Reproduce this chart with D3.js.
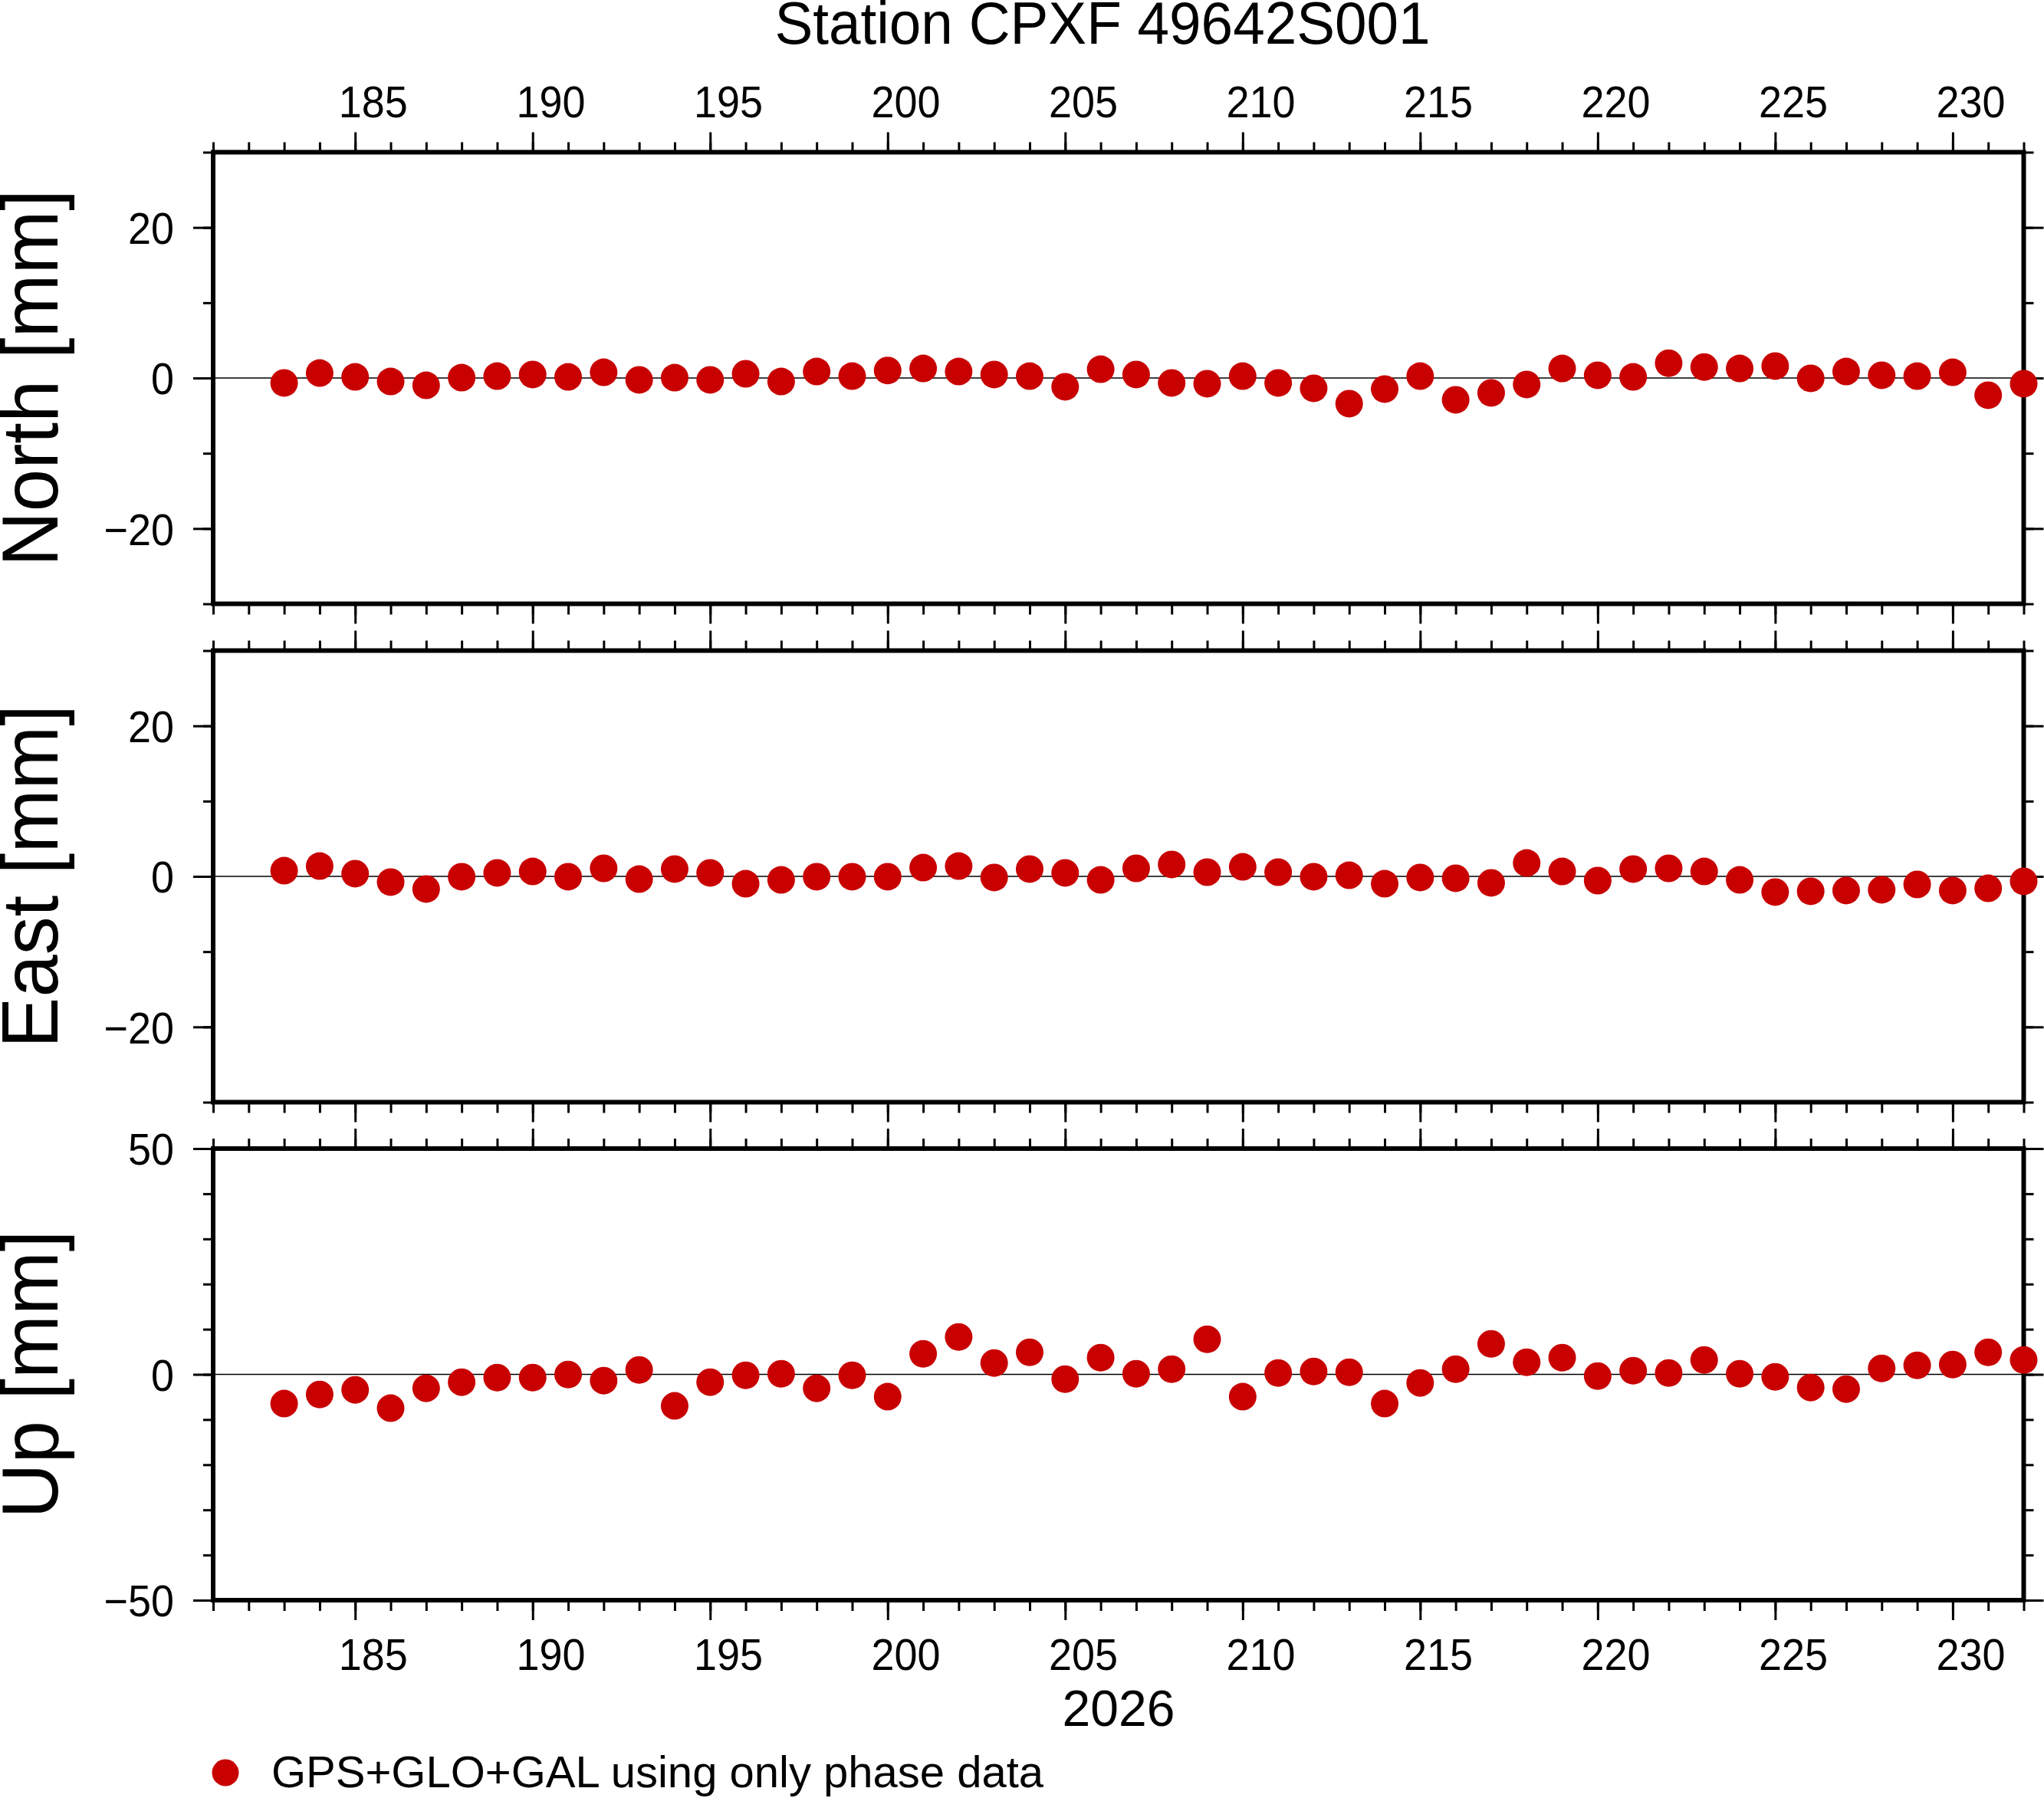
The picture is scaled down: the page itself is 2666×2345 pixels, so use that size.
<!DOCTYPE html>
<html><head><meta charset="utf-8">
<script src="https://cdn.jsdelivr.net/npm/d3@7"></script>
<style>html,body{margin:0;padding:0;background:#fff;} svg{display:block}</style>
</head><body>
<svg id="c" width="2666" height="2345"></svg>
<script>
// ---- data ----
const days = [183,184,185,186,187,188,189,190,191,192,193,194,195,196,197,198,199,200,201,202,203,204,205,206,207,208,209,210,211,212,213,214,215,216,217,218,219,220,221,222,223,224,225,226,227,228,229,230,231,232];
const north = [-0.66,0.66,0.15,-0.46,-0.97,0.05,0.25,0.46,0.15,0.76,-0.25,0.05,-0.25,0.56,-0.46,0.86,0.25,1.0,1.27,0.86,0.46,0.25,-1.17,1.17,
               0.46,-0.66,-0.76,0.25,-0.66,-1.37,-3.41,-1.47,0.25,-2.90,-1.98,-0.86,1.27,0.36,0.15,1.97,1.46,1.27,1.58,-0.05,0.86,0.36,0.25,0.76,-2.29,-0.76];
const east = [0.76,1.37,0.36,-0.76,-1.68,-0.05,0.46,0.66,-0.05,1.07,-0.36,0.97,0.46,-0.97,-0.46,-0.05,-0.05,-0.05,1.17,1.37,-0.15,0.97,0.46,-0.46,
              1.07,1.58,0.56,1.27,0.56,-0.05,0.15,-0.97,-0.15,-0.25,-0.86,1.78,0.66,-0.56,0.97,1.07,0.66,-0.46,-2.08,-1.98,-1.88,-1.78,-1.07,-1.88,-1.58,-0.66];
const up = [-6.47,-4.44,-3.42,-7.49,-3.08,-1.72,-0.71,-0.71,-0.03,-1.38,0.99,-6.98,-1.72,-0.20,0.14,-3.08,-0.20,-4.94,4.55,8.28,2.51,4.89,-1.05,3.70,
            0.14,1.16,7.77,-4.94,0.31,0.65,0.48,-6.47,-1.89,1.16,6.75,2.68,3.70,-0.37,0.82,0.31,3.19,0.14,-0.54,-2.91,-3.25,1.33,2.01,2.18,4.89,3.19];
const panelLabels = ["North [mm]", "East [mm]", "Up [mm]"];
const yDomains = [[-30, 30], [-30, 30], [-50, 50]];
const yMajorTicks = [[-20, 0, 20], [-20, 0, 20], [-50, 0, 50]];
const yMinorTicks = [[-30, -20, -10, 0, 10, 20, 30], [-30, -20, -10, 0, 10, 20, 30], [-50, -40, -30, -20, -10, 0, 10, 20, 30, 40, 50]];
const xDomain = [181, 232];
const xMajorTicks = [185, 190, 195, 200, 205, 210, 215, 220, 225, 230];
const xMinorTicks = [181,182,183,184,185,186,187,188,189,190,191,192,193,194,195,196,197,198,199,200,201,202,203,204,205,206,207,208,209,210,211,212,213,214,215,216,217,218,219,220,221,222,223,224,225,226,227,228,229,230,231,232];
const titleText = "Station CPXF 49642S001";
const xAxisTitle = "2026";
const legendText = "GPS+GLO+GAL using only phase data";

// ---- layout ----
const FONT = "'Liberation Sans', Arial, Helvetica, sans-serif";
const RED = "#c80000";
const L = 278, R = 2639.5, H = 589;
const panelTops = [198.5, 848.5, 1498];
const series = [north, east, up];

const svg = d3.select("#c");
svg.append("rect").attr("width", 2666).attr("height", 2345).attr("fill", "#fff");

const x = d3.scaleLinear().domain(xDomain).range([L, R]);
const fmt = d => d < 0 ? "\u2212" + Math.abs(d) : String(d);

function squeeze(sel, s) {
  sel.each(function () {
    const t = d3.select(this);
    const tx = +t.attr("x") || 0, ty = +t.attr("y") || 0;
    t.attr("x", 0).attr("y", 0).attr("transform", `translate(${tx},${ty}) scale(${s},1)`);
  });
}
function styleAxis(g) {
  g.select(".domain").remove();
  g.selectAll("line").attr("stroke", "#000").attr("stroke-width", 3);
  g.selectAll("text").attr("fill", "#000").style("font-family", FONT);
}

series.forEach((vals, i) => {
  const top = panelTops[i];
  const y = d3.scaleLinear().domain(yDomains[i]).range([top + H, top]);
  const g = svg.append("g");

  // zero line
  g.append("line").attr("x1", L).attr("x2", R).attr("y1", y(0)).attr("y2", y(0))
    .attr("stroke", "#000").attr("stroke-width", 1.3);

  // left axis
  g.append("g").attr("transform", `translate(${L},0)`)
    .call(d3.axisLeft(y).tickValues(yMinorTicks[i]).tickSize(13).tickFormat(""))
    .call(styleAxis);
  const la = g.append("g").attr("transform", `translate(${L},0)`)
    .call(d3.axisLeft(y).tickValues(yMajorTicks[i]).tickSize(26).tickPadding(25).tickFormat(fmt))
    .call(styleAxis);
  la.selectAll("text").style("font-size", "58px").attr("dy", "0.36em");
  squeeze(la.selectAll("text"), 0.93);

  // right axis
  g.append("g").attr("transform", `translate(${R},0)`)
    .call(d3.axisRight(y).tickValues(yMinorTicks[i]).tickSize(13).tickFormat(""))
    .call(styleAxis);
  g.append("g").attr("transform", `translate(${R},0)`)
    .call(d3.axisRight(y).tickValues(yMajorTicks[i]).tickSize(26).tickFormat(""))
    .call(styleAxis);

  // top axis
  g.append("g").attr("transform", `translate(0,${top})`)
    .call(d3.axisTop(x).tickValues(xMinorTicks).tickSize(13).tickFormat(""))
    .call(styleAxis);
  const ta = g.append("g").attr("transform", `translate(0,${top})`)
    .call(d3.axisTop(x).tickValues(xMajorTicks).tickSize(26).tickPadding(20).tickFormat(i === 0 ? d3.format("d") : ""))
    .call(styleAxis);
  ta.selectAll("text").style("font-size", "58px").attr("dy", "0")
    .attr("x", d => x(d + 0.5) - x(d));
  squeeze(ta.selectAll("text"), 0.93);

  // bottom axis
  g.append("g").attr("transform", `translate(0,${top + H})`)
    .call(d3.axisBottom(x).tickValues(xMinorTicks).tickSize(14).tickFormat(""))
    .call(styleAxis);
  const ba = g.append("g").attr("transform", `translate(0,${top + H})`)
    .call(d3.axisBottom(x).tickValues(xMajorTicks).tickSize(26).tickPadding(65).tickFormat(i === 2 ? d3.format("d") : ""))
    .call(styleAxis);
  ba.selectAll("text").style("font-size", "58px").attr("dy", "0")
    .attr("x", d => x(d + 0.5) - x(d));
  squeeze(ba.selectAll("text"), 0.93);

  // frame
  g.append("rect").attr("x", L).attr("y", top).attr("width", R - L).attr("height", H)
    .attr("fill", "none").attr("stroke", "#000").attr("stroke-width", 6);

  // points
  g.append("g").selectAll("circle").data(vals).join("circle")
    .attr("cx", (d, k) => x(days[k])).attr("cy", d => y(d)).attr("r", 18).attr("fill", RED);

  // y label
  g.append("text").attr("text-anchor", "middle")
    .attr("transform", `translate(75,${top + H / 2}) rotate(-90) scale(0.957,1)`)
    .style("font-family", FONT).style("font-size", "104px").attr("fill", "#000")
    .text(panelLabels[i]);
});

// title
svg.append("text").attr("text-anchor", "middle")
  .attr("transform", "translate(1438,57) scale(0.97,1)")
  .style("font-family", FONT).style("font-size", "77px").text(titleText);

// x axis title
svg.append("text").attr("text-anchor", "middle")
  .attr("transform", "translate(1459,2251)")
  .style("font-family", FONT).style("font-size", "66px").text(xAxisTitle);

// legend
svg.append("circle").attr("cx", 294).attr("cy", 2312).attr("r", 17.5).attr("fill", RED);
svg.append("text").attr("x", 354).attr("y", 2331)
  .style("font-family", FONT).style("font-size", "58px").text(legendText);
</script>
</body></html>
